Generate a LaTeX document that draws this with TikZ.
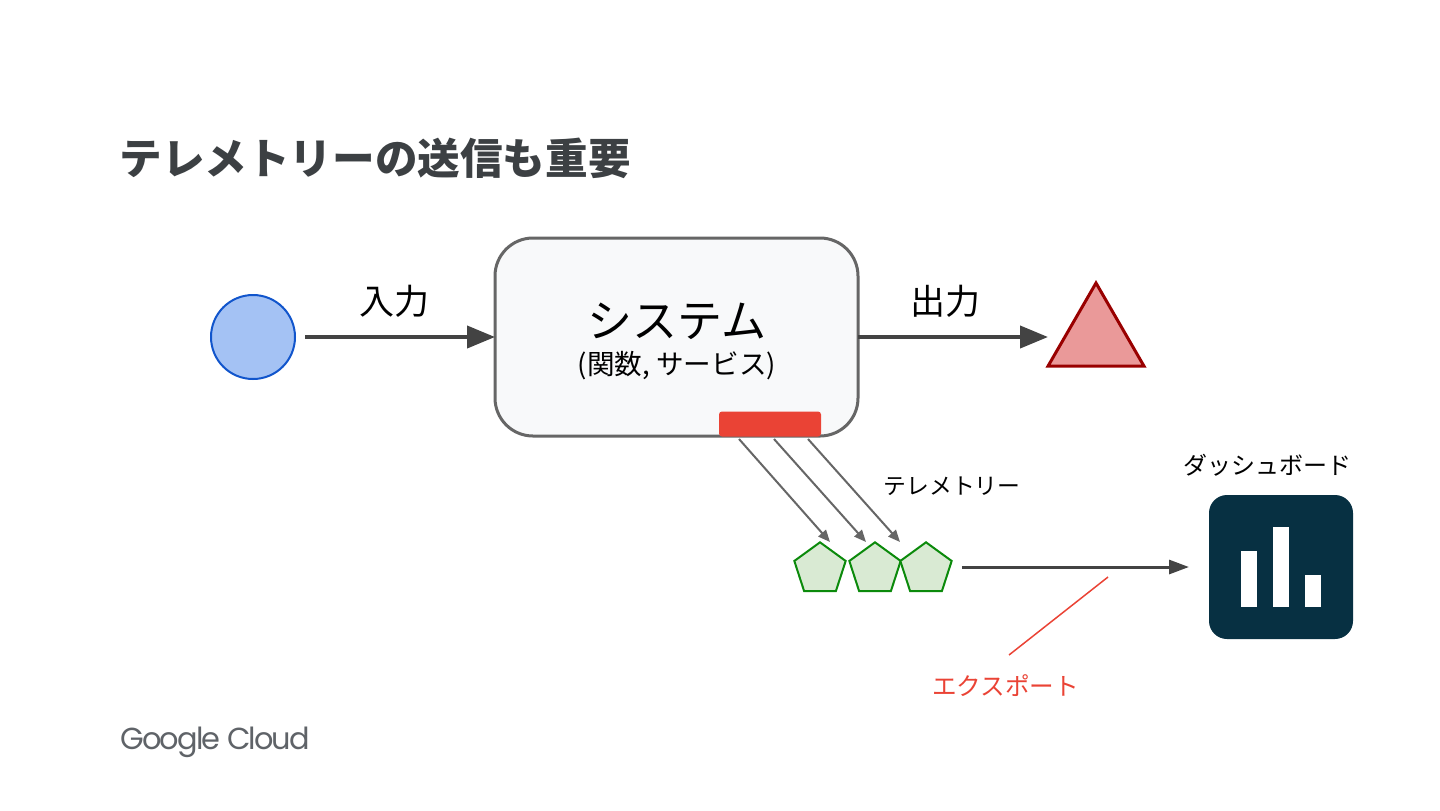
\documentclass[tikz,border=0pt]{standalone}
\usepackage{fontspec}
\usepackage{xcolor}
\setmainfont{Noto Sans CJK JP}
\newfontfamily\logofont[LetterSpace=-6]{Poppins}
\usetikzlibrary{arrows.meta,positioning,shapes.geometric}
\definecolor{arrowgray}{HTML}{434343}
\definecolor{boxgray}{HTML}{666666}
\definecolor{boxfill}{HTML}{F8F9FA}
\definecolor{titlegray}{HTML}{3C4043}
\definecolor{logogray}{HTML}{5F6368}
\definecolor{inputblue}{HTML}{1155CC}
\definecolor{inputfill}{HTML}{A4C2F4}
\definecolor{outputred}{HTML}{990000}
\definecolor{outputfill}{HTML}{EA9999}
\definecolor{tagred}{HTML}{EA4335}
\definecolor{pentgreen}{HTML}{0B8A0B}
\definecolor{pentfill}{HTML}{D9EAD3}
\definecolor{dashnavy}{HTML}{073042}

\begin{document}
\begin{tikzpicture}[
  x=.5pt,y=-.5pt,
  >=Stealth,
  flowarrow/.style={arrowgray,line width=2pt,-{Triangle[length=14pt,width=11pt]}},
  telarrow/.style={boxgray,line width=1pt,-{Triangle[length=6pt,width=5pt]}},
  pent/.style={regular polygon,regular polygon sides=5,draw=pentgreen,fill=pentfill,
    line width=1pt,minimum size=27pt,inner sep=0pt,outer sep=0pt},
  bar/.style={fill=white,minimum width=8pt,inner sep=0pt,outer sep=0pt,anchor=south},
  lbl/.style={font=\fontsize{12}{14}\selectfont,inner sep=0pt}
]
  \useasboundingbox (0,0) rectangle (1440,810);
  \node[anchor=west,inner sep=0pt,text=titlegray,font=\fontsize{21.3}{26}\selectfont\bfseries]
    (title) at (119,158) {テレメトリーの送信も重要};

  % main flow
  \node[circle,draw=inputblue,fill=inputfill,line width=1pt,minimum size=42pt,
    inner sep=0pt,outer sep=0pt] (inputdot) at (253,337) {};
  \node[draw=boxgray,fill=boxfill,line width=1.5pt,rounded corners=19pt,
    minimum width=181.5pt,minimum height=99pt,outer sep=0pt] (sysbox) at (676.5,337) {};
  \node[regular polygon,regular polygon sides=3,draw=outputred,fill=outputfill,
    line width=1.5pt,minimum size=55.4pt,inner sep=0pt,outer sep=0pt] (outtri) at (1096,338.4) {};
  \draw[flowarrow,shorten <=5pt] (inputdot) -- (sysbox);
  \draw[flowarrow,shorten >=8pt] (sysbox.east) -- (sysbox.east -| outtri.west);
  \node[font=\fontsize{17.5}{20}\selectfont,inner sep=0pt] (inlabel) at (394,301) {入力};
  \node[font=\fontsize{17.5}{20}\selectfont,inner sep=0pt] (outlabel) at (945,301) {出力};
  \node[font=\fontsize{22.5}{26}\selectfont,inner sep=0pt] (systext) at (677,321) {システム};
  \node[font=\fontsize{13.8}{16}\selectfont,inner sep=0pt] (subtext) at (677,366) {(関数, サービス)};
  \node[fill=tagred,rounded corners=1.5pt,minimum width=51pt,minimum height=12.5pt,
    inner sep=0pt,outer sep=0pt] (tag) at (770,424) {};

  % telemetry
  \node[pent] (penta) at (820,569.3) {};
  \node[pent] (pentb) at (875,569.3) {};
  \node[pent] (pentc) at (926,569.3) {};
  \coordinate (starta) at (739,439);
  \coordinate (startb) at (774,439);
  \coordinate (startc) at (808,439);
  \coordinate (enda) at (830,542);
  \coordinate (endb) at (866,542);
  \coordinate (endc) at (900,542);
  \draw[telarrow] (starta) -- (enda);
  \draw[telarrow] (startb) -- (endb);
  \draw[telarrow] (startc) -- (endc);
  \node[lbl,font=\fontsize{11.4}{14}\selectfont] (tellabel) at (952,486) {テレメトリー};

  % dashboard
  \node[fill=dashnavy,rounded corners=9pt,minimum size=72pt,inner sep=0pt,outer sep=0pt]
    (dash) at (1281,567) {};
  \node[bar,minimum height=28pt] (bara) at (1249,607) {};
  \node[bar,minimum height=40pt] (barb) at (1281,607) {};
  \node[bar,minimum height=16pt] (barc) at (1313,607) {};
  \node[lbl] (dashlabel) at (1267.5,465) {ダッシュボード};
  \draw[arrowgray,line width=1.5pt,-{Triangle[length=10pt,width=7pt]},shorten <=6.5pt,shorten >=10pt]
    (dash.west -| pentc.east) -- (dash.west);

  % export note
  \coordinate (notetop) at (1108,577);
  \coordinate (notebottom) at (1009,655);
  \draw[tagred,line width=.75pt] (notetop) -- (notebottom);
  \node[lbl,text=tagred,font=\fontsize{12.3}{14}\selectfont] (notelabel) at (1005.5,686) {エクスポート};

  \node[anchor=west,inner sep=0pt,text=logogray,font=\logofont\fontsize{15.2}{18}\selectfont]
    (logo) at (120,742) {Google Cloud};
\end{tikzpicture}
\end{document}
